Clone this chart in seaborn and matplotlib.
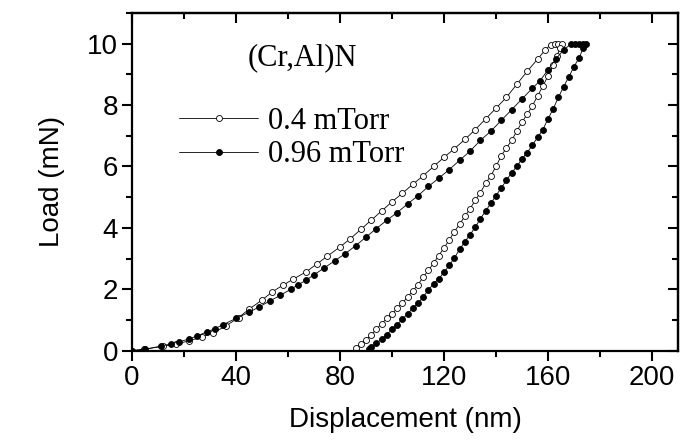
import numpy as np
import pandas as pd
import seaborn as sns
from matplotlib import pyplot as plt
from matplotlib.ticker import MultipleLocator

sns.set_style("ticks", {"axes.edgecolor": "black", "xtick.color": "black",
                        "ytick.color": "black", "text.color": "black",
                        "axes.labelcolor": "black"})
plt.rcParams["font.family"] = ["Liberation Sans", "DejaVu Sans"]

# 0.4 mTorr (open circles): loading branch incl. hold at 10 mN
open_load_x = [0, 4.5, 12, 17, 22, 27, 31, 36, 41, 45, 50, 54, 58, 62, 67, 71,
               75, 80, 84, 88, 92, 96, 100, 104, 108, 112, 116, 120, 124, 128,
               132, 136, 140, 144, 148, 152, 156, 159, 161, 162.5, 164, 165.5]
open_load_y = [0, 0.05, 0.14, 0.22, 0.32, 0.45, 0.57, 0.8, 1.08, 1.35, 1.65,
               1.92, 2.13, 2.33, 2.57, 2.82, 3.07, 3.38, 3.65, 3.95, 4.25,
               4.55, 4.85, 5.13, 5.42, 5.7, 6.0, 6.3, 6.58, 6.88, 7.2, 7.55,
               7.9, 8.25, 8.68, 9.1, 9.5, 9.8, 9.97, 10.0, 10.0, 10.0]
# 0.4 mTorr unloading branch
open_unload_x = [164.5, 163.5, 162, 160, 158, 156, 154, 152, 150, 148, 146,
                 144, 142, 140, 138, 136, 134, 132, 130, 128, 126, 124, 122,
                 120, 118, 116, 114, 112, 110, 108, 106, 104, 102, 100, 98, 96,
                 94, 92, 90, 88, 86.3]
open_unload_y = [9.85, 9.6, 9.3, 8.95, 8.62, 8.3, 7.98, 7.7, 7.45, 7.15, 6.85,
                 6.6, 6.35, 6.0, 5.7, 5.45, 5.15, 4.9, 4.62, 4.38, 4.12, 3.88,
                 3.6, 3.35, 3.1, 2.85, 2.62, 2.4, 2.15, 1.95, 1.75, 1.55, 1.38,
                 1.2, 1.05, 0.88, 0.7, 0.52, 0.36, 0.22, 0.1]

# 0.96 mTorr (filled circles): loading branch incl. hold
fill_load_x = [0, 5, 11, 15, 18, 22, 25, 29, 32, 35, 40, 45, 49, 53, 57, 61,
               64, 67, 70, 74, 78, 82, 86, 90, 94, 98, 102, 106, 110, 114, 118,
               122, 126, 130, 134, 138, 142, 146, 150, 154, 157, 160, 163, 166,
               169, 170.5, 172, 173.5, 174.5]
fill_load_y = [0, 0.04, 0.15, 0.22, 0.29, 0.38, 0.48, 0.62, 0.72, 0.85, 1.05,
               1.25, 1.43, 1.62, 1.8, 2.0, 2.15, 2.3, 2.47, 2.7, 2.93, 3.16,
               3.42, 3.7, 3.98, 4.25, 4.5, 4.78, 5.05, 5.35, 5.62, 5.9, 6.2,
               6.5, 6.85, 7.15, 7.5, 7.85, 8.2, 8.55, 8.8, 9.15, 9.5, 9.8,
               10.0, 10.0, 10.0, 10.0, 10.0]
# 0.96 mTorr unloading branch
fill_unload_x = [173.5, 172, 170, 168, 166, 164, 162, 160, 158, 156, 154, 152,
                 150, 148, 146, 144, 142, 140, 138, 136, 134, 132, 130, 128,
                 126, 124, 122, 120, 118, 116, 114, 112, 110, 108, 106, 104,
                 102, 100, 98, 96, 94, 92, 91]
fill_unload_y = [9.85, 9.55, 9.25, 8.92, 8.6, 8.25, 7.88, 7.55, 7.2, 6.95, 6.7,
                 6.45, 6.25, 6.0, 5.8, 5.55, 5.3, 5.05, 4.8, 4.55, 4.3, 4.02,
                 3.78, 3.55, 3.3, 3.02, 2.78, 2.55, 2.35, 2.18, 1.98, 1.75,
                 1.55, 1.38, 1.2, 1.03, 0.85, 0.7, 0.52, 0.38, 0.24, 0.12, 0.05]

open_df = pd.DataFrame({"disp": open_load_x + open_unload_x,
                        "load": open_load_y + open_unload_y})
fill_df = pd.DataFrame({"disp": fill_load_x + fill_unload_x,
                        "load": fill_load_y + fill_unload_y})

fig = plt.figure(figsize=(6.8, 4.41), dpi=100)
ax = fig.add_axes([0.1941, 0.2048, 0.803, 0.7657])

common = dict(sort=False, estimator=None, ax=ax, color="black", lw=0.6,
              marker="o", markersize=4.3, markeredgecolor="black",
              markeredgewidth=0.6)
sns.lineplot(data=open_df, x="disp", y="load", markerfacecolor="white",
             label="0.4 mTorr", **common)
sns.lineplot(data=fill_df, x="disp", y="load", markerfacecolor="black",
             label="0.96 mTorr", **common)

ax.set_xlim(0, 210)
ax.set_ylim(0, 11)
ax.xaxis.set_major_locator(MultipleLocator(40))
ax.xaxis.set_minor_locator(MultipleLocator(20))
ax.yaxis.set_major_locator(MultipleLocator(2))
ax.yaxis.set_minor_locator(MultipleLocator(1))
ax.tick_params(which="major", direction="out", length=7, width=1.5,
               labelsize=20, pad=3)
ax.tick_params(which="minor", direction="out", length=4, width=1.5)
for sp in ax.spines.values():
    sp.set_linewidth(1.6)

# mirrored ticks on top and right, pointing inward
top = ax.secondary_xaxis("top")
top.xaxis.set_major_locator(MultipleLocator(40))
top.xaxis.set_minor_locator(MultipleLocator(20))
top.tick_params(which="both", direction="in", width=1.5, labeltop=False)
top.tick_params(which="major", length=7)
top.tick_params(which="minor", length=4)
right = ax.secondary_yaxis("right")
right.yaxis.set_major_locator(MultipleLocator(2))
right.yaxis.set_minor_locator(MultipleLocator(1))
right.tick_params(which="both", direction="in", width=1.5, labelright=False)
right.tick_params(which="major", length=7)
right.tick_params(which="minor", length=4)
for s in (top, right):
    for sp in s.spines.values():
        sp.set_linewidth(1.6)

ax.set_xlabel("Displacement (nm)", fontsize=20, labelpad=12)
ax.set_ylabel("Load (mN)", fontsize=20, labelpad=16)

ax.text(44.6, 9.55, "(Cr,Al)N", ha="left", va="center", fontsize=22,
        family=["Liberation Serif"])
ax.legend(loc="upper left", bbox_to_anchor=(0.0861, 0.722), frameon=False,
          borderpad=0, borderaxespad=0, handlelength=2.6, handletextpad=0.3,
          labelspacing=0.15, numpoints=1,
          prop={"family": "Liberation Serif", "size": 22})

fig.savefig("out.png", dpi=100)
